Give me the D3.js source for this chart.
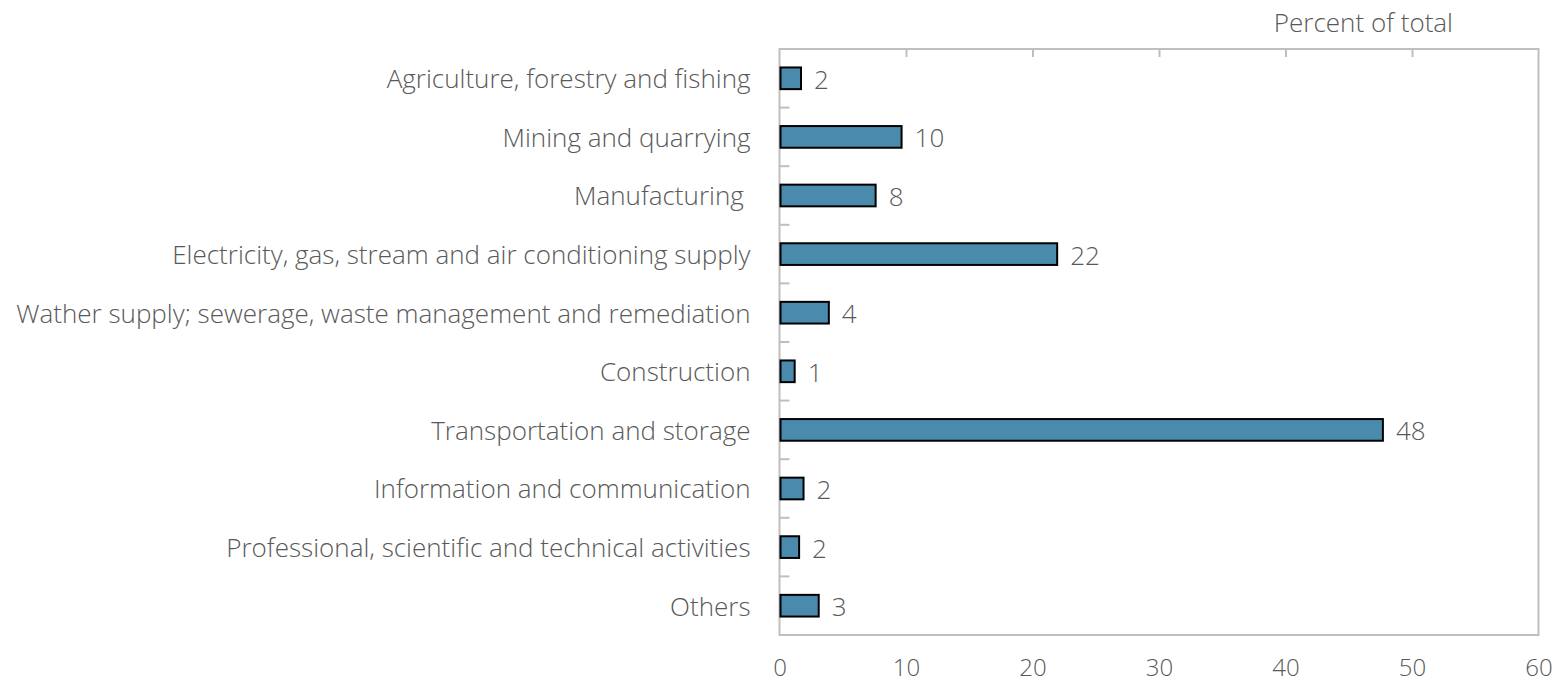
<!DOCTYPE html>
<html>
<head>
<meta charset="utf-8">
<script src="https://cdn.jsdelivr.net/npm/d3@7"></script>
<style>
  body { margin: 0; background: #fff; }
  svg text { font-family: "Open Sans", "Segoe UI", sans-serif; font-weight: 300; fill: #595959; }
</style>
</head>
<body>
<svg id="chart"></svg>
<script>
var categories = [
  "Agriculture, forestry and fishing",
  "Mining and quarrying",
  "Manufacturing ",
  "Electricity, gas, stream and air conditioning supply",
  "Wather supply; sewerage, waste management and remediation",
  "Construction",
  "Transportation and storage",
  "Information and communication",
  "Professional, scientific and technical activities",
  "Others"
];
var values = [1.7, 9.65, 7.6, 21.95, 3.9, 1.2, 47.7, 1.9, 1.55, 3.1];
var valueLabels = ["2", "10", "8", "22", "4", "1", "48", "2", "2", "3"];
var xTicks = [0, 10, 20, 30, 40, 50, 60];

var width = 1556;
var height = 682;
var padLeft = 779.5, padRight = 1538.5, padTop = 49, padBottom = 635;
var fontSize = 26;

var svg = d3.select("#chart").attr("width", width).attr("height", height);

var xScale = d3.scaleLinear().domain([0, 60]).range([padLeft, padRight]);
var yScale = d3.scaleBand().domain(categories).range([padTop, padBottom]).paddingInner(0).paddingOuter(0);
var barH = yScale.bandwidth() * 0.37;

// plot frame
svg.append("rect")
  .attr("x", padLeft).attr("y", padTop)
  .attr("width", padRight - padLeft).attr("height", padBottom - padTop)
  .attr("fill", "none").attr("stroke", "#bfbfbf").attr("stroke-width", 2);

// top mirror ticks
var topAxis = d3.axisTop(xScale).tickValues([10, 20, 30, 40, 50]).tickSize(-8).tickFormat("");
svg.append("g")
  .attr("transform", "translate(0," + padTop + ")")
  .call(topAxis)
  .call(g => g.select(".domain").remove())
  .call(g => g.selectAll("line").attr("stroke", "#bfbfbf").attr("stroke-width", 2));

// bottom labels
var xAxis = d3.axisBottom(xScale).tickValues(xTicks).tickSize(0).tickPadding(0).tickFormat(d3.format("d"));
svg.append("g")
  .attr("transform", "translate(0," + (padBottom + 33) + ")")
  .call(xAxis)
  .call(g => g.select(".domain").remove())
  .call(g => g.selectAll("text").attr("font-size", 24).attr("font-family", null).attr("dy", "0.35em"));

// category separators on left axis
svg.append("g")
  .selectAll("line")
  .data(categories.slice(1))
  .enter()
  .append("line")
  .attr("x1", padLeft)
  .attr("x2", padLeft + 10)
  .attr("y1", d => yScale(d))
  .attr("y2", d => yScale(d))
  .attr("stroke", "#bfbfbf")
  .attr("stroke-width", 2);

// category labels
var yAxis = d3.axisLeft(yScale).tickSize(0).tickPadding(29);
svg.append("g")
  .attr("transform", "translate(" + padLeft + ",0)")
  .call(yAxis)
  .call(g => g.select(".domain").remove())
  .call(g => g.selectAll("text").attr("font-size", fontSize).attr("font-family", null)
    .style("white-space", "pre").attr("dy", "0.38em"));

// bars
svg.append("g")
  .selectAll("rect")
  .data(values)
  .enter()
  .append("rect")
  .attr("x", xScale(0) + 1)
  .attr("y", (d, i) => yScale(categories[i]) + (yScale.bandwidth() - barH) / 2)
  .attr("width", d => xScale(d) - xScale(0) - 1)
  .attr("height", barH)
  .attr("fill", "#4a8aac")
  .attr("stroke", "#000")
  .attr("stroke-width", 2);

// value labels
svg.append("g")
  .selectAll("text")
  .data(values)
  .enter()
  .append("text")
  .attr("x", d => xScale(d) + 13)
  .attr("y", (d, i) => yScale(categories[i]) + yScale.bandwidth() / 2)
  .attr("dy", "0.4em")
  .attr("font-size", fontSize)
  .text((d, i) => valueLabels[i]);

// unit label
svg.append("text")
  .attr("x", 1453)
  .attr("y", 32)
  .attr("text-anchor", "end")
  .attr("font-size", fontSize)
  .text("Percent of total");
</script>
</body>
</html>
